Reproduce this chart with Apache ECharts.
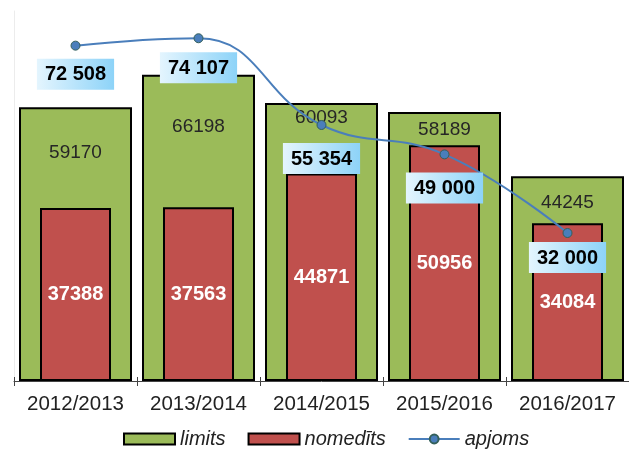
<!DOCTYPE html>
<html>
<head>
<meta charset="utf-8">
<script src="https://cdn.jsdelivr.net/npm/echarts@6/dist/echarts.min.js"></script>
<style>
  html, body { margin: 0; padding: 0; background: #fff; }
  #chart { width: 629px; height: 468px; }
</style>
</head>
<body>
<div id="chart"></div>
<script>
const seasons = ["2012/2013", "2013/2014", "2014/2015", "2015/2016", "2016/2017"];
const limits = [59170, 66198, 60093, 58189, 44245];
const nomedits = [37388, 37563, 44871, 50956, 34084];
const apjoms = [72508, 74107, 55354, 49000, 32000];

// label placement tweaks (pixels)
const limitsLabelGap = [36, 42, 5, 8, 17];
const apjomsLabelGap = [8, 9, 13, 13, 4];

function spaced(v) {
  return String(v).replace(/\B(?=(\d{3})+(?!\d))/g, " ");
}

const chart = echarts.init(document.getElementById("chart"));

const option = {
  backgroundColor: "#fff",
  animation: false,
  textStyle: { fontFamily: "Liberation Sans, Arial, sans-serif" },
  grid: { left: 14, right: -3, top: 11, bottom: 87 },
  xAxis: [
    {
      type: "category",
      position: "bottom",
      data: seasons,
      axisLine: { lineStyle: { color: "#444", width: 1 } },
      axisTick: { show: true, interval: 0, length: 5, lineStyle: { color: "#444" } },
      axisLabel: { color: "#222", fontSize: 20.5, margin: 13, interval: 0 }
    },
    {
      type: "category",
      position: "bottom",
      data: seasons,
      axisLine: { show: false },
      axisLabel: { show: false },
      axisTick: { show: true, interval: 0, inside: true, length: 4, lineStyle: { color: "#444" } }
    }
  ],
  yAxis: {
    type: "value",
    min: 0,
    max: 80000,
    splitLine: { show: false },
    axisLabel: { show: false },
    axisTick: { show: false },
    axisLine: { show: true, lineStyle: { color: "#ececec" } }
  },
  legend: {
    bottom: 14,
    left: 118,
    itemWidth: 51,
    itemHeight: 11,
    itemGap: 22,
    textStyle: { fontSize: 20, fontStyle: "italic", color: "#222" },
    data: [
      { name: "limits", icon: "rect" },
      { name: "nomedīts", icon: "rect" },
      { name: "apjoms" }
    ]
  },
  series: [
    {
      name: "limits",
      type: "bar",
      xAxisIndex: 0,
      barWidth: 113,
      itemStyle: { color: "#9bbb59", borderColor: "#000", borderWidth: 2 },
      data: limits.map((v, i) => ({
        value: v,
        label: { distance: limitsLabelGap[i] }
      })),
      label: {
        show: true,
        position: "insideTop",
        color: "#262626",
        fontSize: 19
      },
      z: 1
    },
    {
      name: "nomedīts",
      type: "bar",
      xAxisIndex: 1,
      barWidth: 71,
      itemStyle: { color: "#c0504d", borderColor: "#000", borderWidth: 2 },
      data: nomedits,
      label: {
        show: true,
        position: "inside",
        color: "#fff",
        fontWeight: "bold",
        fontSize: 20
      },
      z: 2
    },
    {
      name: "apjoms",
      type: "line",
      xAxisIndex: 0,
      smooth: 0.45,
      symbol: "circle",
      symbolSize: 9,
      lineStyle: { color: "#4a7ebb", width: 2 },
      itemStyle: { color: "#4a7ebb", borderColor: "#34605a", borderWidth: 1 },
      data: apjoms.map((v, i) => ({
        value: v,
        label: { distance: apjomsLabelGap[i] }
      })),
      label: {
        show: true,
        position: "bottom",
        formatter: p => spaced(p.value),
        color: "#000",
        fontWeight: "bold",
        fontSize: 20,
        padding: [6, 8, 5, 8],
        backgroundColor: {
          type: "linear", x: 0, y: 0, x2: 1, y2: 0,
          colorStops: [
            { offset: 0, color: "#e4f5fe" },
            { offset: 1, color: "#8dd3f8" }
          ]
        }
      },
      z: 5
    }
  ]
};

chart.setOption(option);
</script>
</body>
</html>
